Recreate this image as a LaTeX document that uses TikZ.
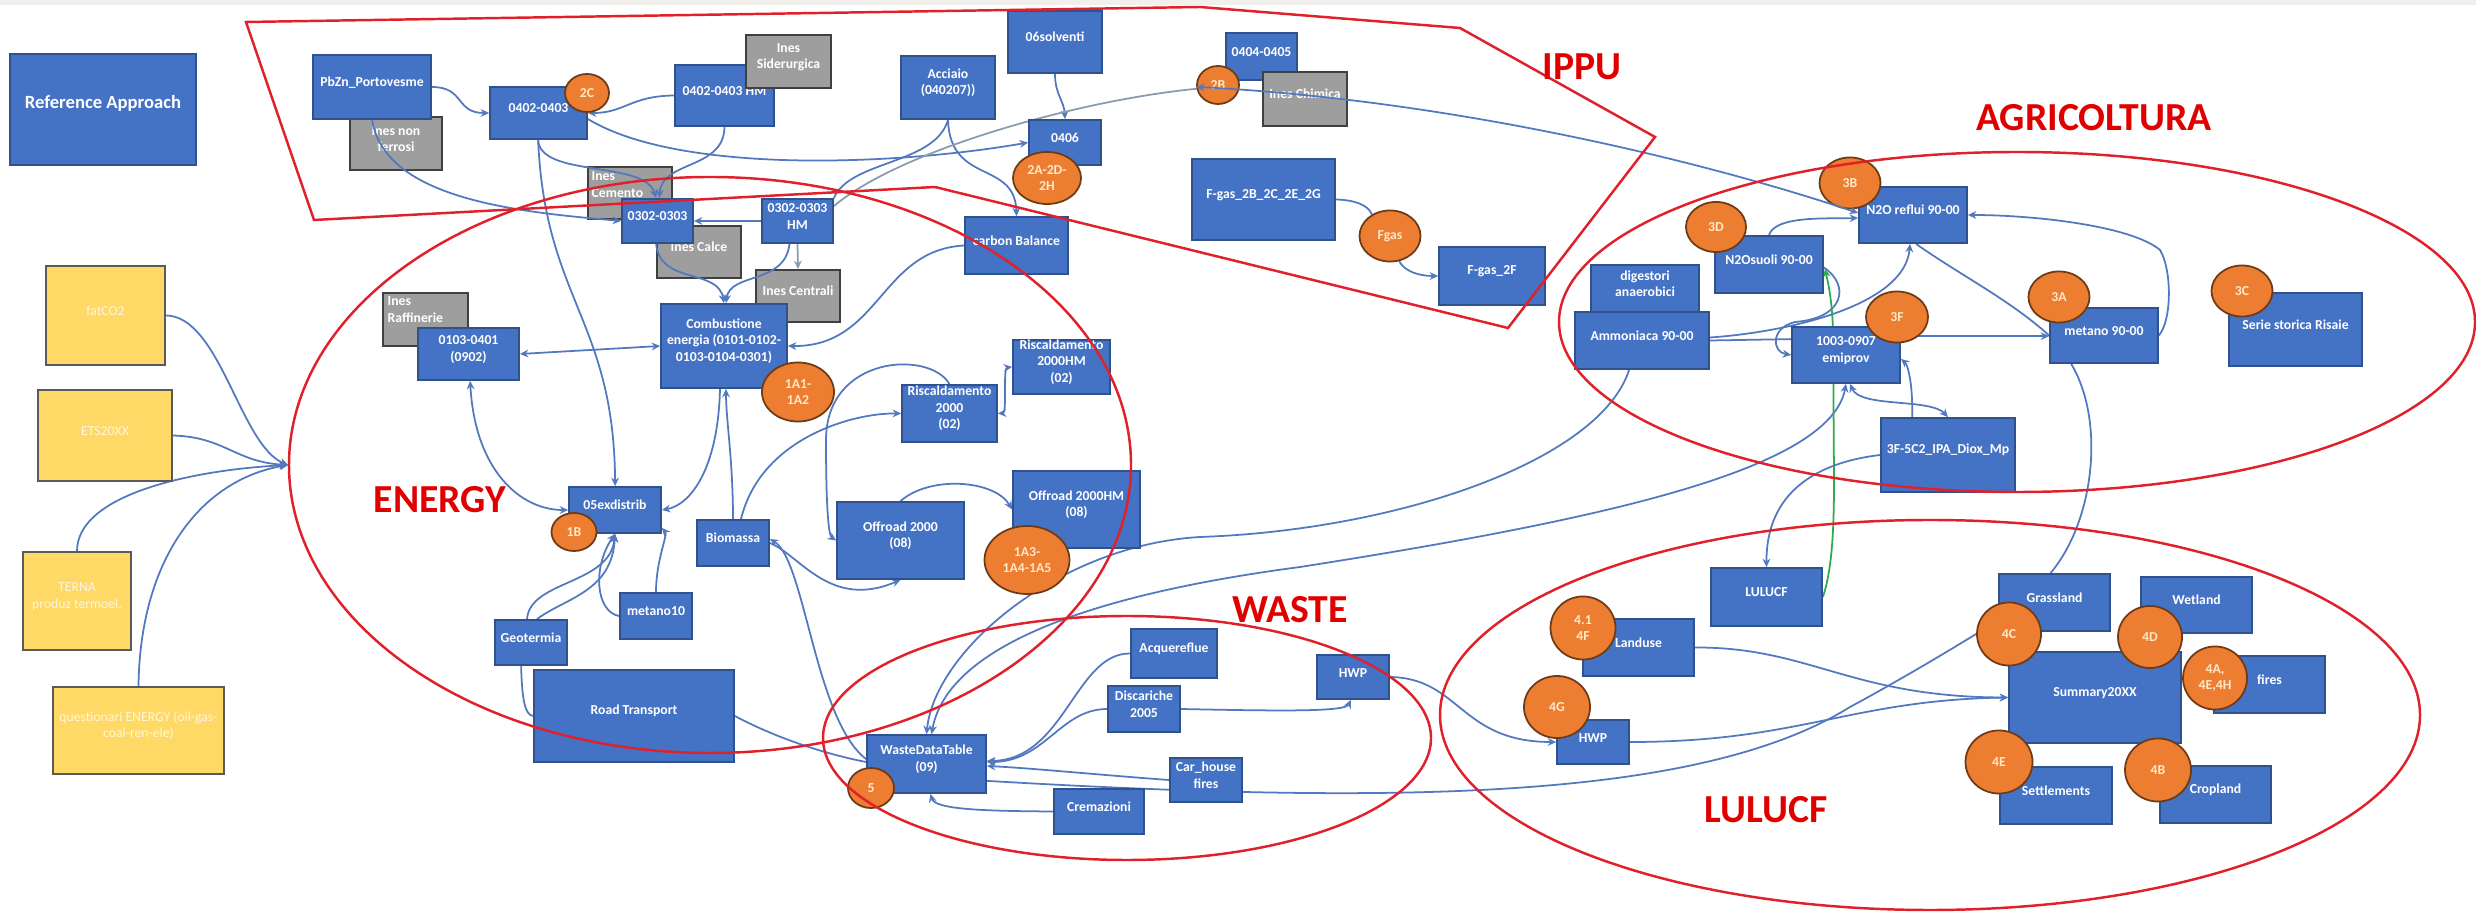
\documentclass[tikz,border=0pt]{standalone}
\usepackage{fontspec}
\newfontfamily\cfont{Carlito}
\usetikzlibrary{fit,calc,shapes.geometric,arrows.meta}
\pgfdeclarelayer{bg}\pgfdeclarelayer{fg}\pgfsetlayers{bg,main,fg}
\definecolor{bfill}{HTML}{4472C4}
\definecolor{bborder}{HTML}{2F528F}
\definecolor{gfill}{HTML}{9E9E9E}
\definecolor{gborder}{HTML}{404040}
\definecolor{ofill}{HTML}{ED7D31}
\definecolor{oborder}{HTML}{6E3B16}
\definecolor{otext}{HTML}{FFE9C8}
\definecolor{yfill}{HTML}{FFD966}
\definecolor{yborder}{HTML}{5A5A5A}
\definecolor{ytext}{HTML}{FFF6DD}
\definecolor{cblue}{HTML}{5279C0}
\definecolor{cgray}{HTML}{8A9BB0}
\definecolor{rline}{HTML}{E0202A}
\definecolor{rlab}{HTML}{E00000}
\definecolor{cgreen}{HTML}{2EAA50}
\definecolor{band}{HTML}{F2F0ED}
\tikzset{
 bx/.style={draw=bborder,fill=bfill,line width=0.5pt,inner sep=0pt,text=white,align=center,font=\cfont\bfseries\fontsize{3.9}{4.7}\selectfont},
 gx/.style={bx,draw=gborder,fill=gfill},
 yx/.style={draw=yborder,fill=yfill,line width=0.5pt,inner sep=0pt,text=ytext,align=center,font=\cfont\fontsize{3.9}{4.7}\selectfont},
 oc/.style={ellipse,draw=oborder,fill=ofill,line width=0.5pt,inner sep=0pt,text=otext,align=center,font=\cfont\bfseries\fontsize{3.9}{4.7}\selectfont},
 txt/.style={inner sep=0pt,text=white,align=left,font=\cfont\bfseries\fontsize{3.9}{4.7}\selectfont},
 lab/.style={inner sep=0pt,text=rlab,font=\cfont\bfseries\fontsize{11.3}{13}\selectfont},
 con/.style={draw=cblue,line width=0.5pt},
 arr/.style={con,-{Stealth[length=2.4pt,width=2.2pt]}},
 arr2/.style={con,{Stealth[length=2.4pt,width=2.2pt]}-{Stealth[length=2.4pt,width=2.2pt]}},
 garr/.style={arr,draw=cgreen},
 grarr/.style={arr,draw=cgray},
 gcon/.style={con,draw=cgray},
 region/.style={draw=rline,line width=0.7pt},
}
\begin{document}
\begin{tikzpicture}[x=0.01cm,y=-0.01cm]
\useasboundingbox (0,0) rectangle (2476,919);
\begin{pgfonlayer}{bg}
\fill[white] (0,0) rectangle (2476,919);
\fill[band] (0,0) rectangle (2476,5);
\end{pgfonlayer}

% ---------- boxes ----------
\node[bx,fit={(10,54)(196,165)},font=\cfont\bfseries\fontsize{5.3}{6.4}\selectfont] (RA) {Reference Approach};
\node[yx,fit={(46,266)(165,365)}] (fatCO2) {fatCO2};
\node[yx,fit={(38,390)(172,481)}] (ETS) {ETS20XX};
\node[yx,fit={(23,552)(131,650)}] (TERNA) {TERNA\\produz termoel.};
\node[yx,fit={(53,687)(224,774)}] (quest) {questionari ENERGY (oil-gas-\\coal-ren-ele)};
\coordinate (merge) at (288,465);

\node[gx,fit={(350,117)(442,170)}] (InesNF) {Ines non\\ferrosi};
\node[bx,fit={(313,55)(431,119)}] (PbZn) {PbZn\_Portovesme};
\node[bx,fit={(490,87)(587,139)}] (n0402) {0402-0403};
\node[bx,fit={(675,65)(774,126)}] (n0402HM) {0402-0403 HM};
\node[gx,fit={(746,35)(831,88)}] (InesSid) {Ines\\Siderurgica};
\node[bx,fit={(901,56)(995,119)}] (Acciaio) {Acciaio\\(040207))};
\node[bx,fit={(1008,11)(1102,73)}] (n06solv) {06solventi};
\node[bx,fit={(1029,120)(1101,165)}] (n0406) {0406};
\node[bx,fit={(1226,33)(1297,80)}] (n0404) {0404-0405};
\node[gx,fit={(1263,72)(1347,126)}] (InesChim) {Ines Chimica};
\node[bx,fit={(1192,159)(1335,240)}] (FgasA) {F-gas\_2B\_2C\_2E\_2G};
\node[bx,fit={(1439,247)(1545,305)}] (Fgas2F) {F-gas\_2F};

\node[gx,fit={(588,167)(672,219)}] (InesCem) {};
\node[txt,anchor=north west] at (591,171) {Ines\\Cemento};
\node[gx,fit={(657,226)(741,278)}] (InesCalce) {Ines Calce};
\node[bx,fit={(622,199)(693,243)}] (n0302) {0302-0303};
\node[bx,fit={(762,199)(833,243)}] (n0302HM) {0302-0303\\HM};
\node[gx,fit={(756,270)(840,322)}] (InesCentr) {Ines Centrali};
\node[bx,fit={(661,304)(787,388)}] (Combustione) {Combustione\\energia (0101-0102-\\0103-0104-0301)};
\node[bx,fit={(965,217)(1068,274)}] (carbonB) {carbon Balance};
\node[gx,fit={(383,293)(468,346)}] (InesRaff) {};
\node[txt,anchor=north west] at (387,296) {Ines\\Raffinerie};
\node[bx,fit={(418,328)(519,380)}] (n0103) {0103-0401\\(0902)};
\node[bx,fit={(902,385)(997,442)}] (Risc2000) {Riscaldamento\\2000\\(02)};
\node[bx,fit={(1013,340)(1110,394)}] (Risc2000HM) {Riscaldamento\\2000HM\\(02)};
\node[bx,fit={(569,487)(661,533)}] (exdistrib) {05exdistrib};
\node[bx,fit={(495,620)(567,665)}] (Geotermia) {Geotermia};
\node[bx,fit={(534,670)(734,762)}] (RoadT) {Road Transport};
\node[bx,fit={(620,593)(692,639)}] (metano10) {metano10};
\node[bx,fit={(697,520)(769,566)}] (Biomassa) {Biomassa};
\node[bx,fit={(837,502)(964,579)}] (Offroad) {Offroad 2000\\(08)};
\node[bx,fit={(1013,471)(1140,548)}] (OffroadHM) {Offroad 2000HM\\(08)};

\node[bx,fit={(867,735)(986,793)}] (WDT) {WasteDataTable\\(09)};
\node[bx,fit={(1131,629)(1217,678)}] (Acque) {Acquereflue};
\node[bx,fit={(1108,686)(1180,732)}] (Discariche) {Discariche\\2005};
\node[bx,fit={(1170,758)(1242,802)}] (CarHouse) {Car\_house\\fires};
\node[bx,fit={(1054,789)(1144,834)}] (Cremazioni) {Cremazioni};
\node[bx,fit={(1317,655)(1389,699)}] (HWPw) {HWP};

\node[bx,fit={(1591,265)(1699,312)}] (Digestori) {digestori\\anaerobici};
\node[bx,fit={(1575,312)(1709,369)}] (Ammoniaca) {Ammoniaca 90-00};
\node[bx,fit={(1715,236)(1823,293)}] (N2Osuoli) {N2Osuoli 90-00};
\node[bx,fit={(1859,187)(1967,243)}] (N2Oreflui) {N2O reflui 90-00};
\node[bx,fit={(1792,327)(1900,383)}] (emiprov) {1003-0907\\emiprov};
\node[bx,fit={(2050,308)(2158,363)}] (metano90) {metano 90-00};
\node[bx,fit={(2229,293)(2362,366)}] (Risaie) {Serie storica Risaie};
\node[bx,fit={(1881,418)(2015,492)}] (IPA) {3F-5C2\_IPA\_Diox\_Mp};

\node[bx,fit={(1711,568)(1822,626)}] (LULUCFb) {LULUCF};
\node[bx,fit={(1583,619)(1694,676)}] (Landuse) {Landuse};
\node[bx,fit={(1557,720)(1629,764)}] (HWPl) {HWP};
\node[bx,fit={(1999,574)(2110,631)}] (Grassland) {Grassland};
\node[bx,fit={(2141,577)(2252,633)}] (Wetland) {Wetland};
\node[bx,fit={(2009,652)(2181,743)}] (Summary) {Summary20XX};
\node[bx,fit={(2214,656)(2325,713)}] (fires) {fires};
\node[bx,fit={(2000,767)(2112,824)}] (Settlements) {Settlements};
\node[bx,fit={(2160,766)(2271,823)}] (Cropland) {Cropland};

% ---------- orange markers ----------
\node[oc,minimum width=0.44cm,minimum height=0.38cm] (c2C) at (587,93) {2C};
\node[oc,minimum width=0.42cm,minimum height=0.38cm] (c2B) at (1218,85) {2B};
\node[oc,minimum width=0.68cm,minimum height=0.52cm] (c2A) at (1047,178) {2A-2D-\\2H};
\node[oc,minimum width=0.72cm,minimum height=0.59cm] (c1A1) at (798,392) {1A1-\\1A2};
\node[oc,minimum width=0.85cm,minimum height=0.68cm] (c1A3) at (1027,560) {1A3-\\1A4-1A5};
\node[oc,minimum width=0.45cm,minimum height=0.38cm] (c1B) at (574,532) {1B};
\node[oc,minimum width=0.46cm,minimum height=0.40cm] (c5) at (871,788) {5};
\node[oc,minimum width=0.61cm,minimum height=0.51cm] (cFgas) at (1390,236) {Fgas};
\node[oc,minimum width=0.60cm,minimum height=0.50cm] (c3D) at (1716,227) {3D};
\node[oc,minimum width=0.61cm,minimum height=0.51cm] (c3B) at (1850,183) {3B};
\node[oc,minimum width=0.62cm,minimum height=0.51cm] (c3F) at (1897,317) {3F};
\node[oc,minimum width=0.61cm,minimum height=0.51cm] (c3A) at (2059,297) {3A};
\node[oc,minimum width=0.61cm,minimum height=0.51cm] (c3C) at (2242,291) {3C};
\node[oc,minimum width=0.65cm,minimum height=0.63cm] (c41) at (1583,628) {4.1\\4F};
\node[oc,minimum width=0.66cm,minimum height=0.62cm] (c4G) at (1557,707) {4G};
\node[oc,minimum width=0.64cm,minimum height=0.63cm] (c4C) at (2009,634) {4C};
\node[oc,minimum width=0.64cm,minimum height=0.62cm] (c4D) at (2150,637) {4D};
\node[oc,minimum width=0.64cm,minimum height=0.63cm] (c4A) at (2215,678) {4A,\\4E,4H};
\node[oc,minimum width=0.67cm,minimum height=0.63cm] (c4E) at (1999,762) {4E};
\node[oc,minimum width=0.66cm,minimum height=0.63cm] (c4B) at (2158,770) {4B};

% ---------- connectors (behind boxes) ----------
\begin{pgfonlayer}{bg}
\draw[arr] (fatCO2.east) .. controls (220,316) and (240,445) .. (merge);
\draw[arr] (ETS.east) .. controls (225,437) and (235,462) .. (merge);
\draw[arr] (TERNA.north) .. controls (77,495) and (190,470) .. (merge);
\draw[arr] (quest.north) .. controls (140,560) and (200,480) .. (merge);

\draw[arr] (PbZn.east) .. controls (465,87) and (455,113) .. (n0402.west);
\draw[arr] ($(n0402.south west)+(49,0)$) .. controls (545,300) and (614,320) .. ($(exdistrib.north west)+(47,0)$);
\draw[arr] (n0402HM.west) .. controls (630,96) and (625,113) .. (n0402.east);
\draw[arr] ($(n0402.east)+(0,6)$) .. controls (680,175) and (900,165) .. (n0406.west);
\draw[arr] (n06solv.south) .. controls (1055,95) and (1064,100) .. (n0406.north);
\draw[arr] (Acciaio.south) .. controls (950,185) and (1015,160) .. (carbonB.north);
\draw[con] (Acciaio.south) .. controls (935,165) and (850,160) .. (n0302HM.north east);
\draw[gcon] ($(n0302HM.north east)+(0,8)$) .. controls (900,150) and (1080,100) .. (c2B.190);
\draw[arr] (n0302HM.west) -- (n0302.east);
\draw[grarr] (n0302HM.south) -- (InesCentr.north);
\draw[arr2] (n0103.east) -- (Combustione.west);
\draw[arr2] ($(n0103.south west)+(53,0)$) .. controls (475,470) and (520,510) .. (exdistrib.west);
\draw[arr] (carbonB.west) .. controls (880,250) and (880,347) .. (Combustione.east);
\draw[arr] (Biomassa.north) .. controls (733,460) and (726,420) .. ($(Combustione.south)+(2,0)$);
\draw[arr] ($(Combustione.south)+(-4,0)$) .. controls (718,470) and (690,505) .. (exdistrib.east);
\draw[arr] (metano10.north) .. controls (656,560) and (668,535) .. ($(exdistrib.south east)+(0,-6)$);
\draw[arr] ($(Geotermia.north)+(-4,0)$) .. controls (530,580) and (610,585) .. (exdistrib.south);
\draw[arr] ($(Geotermia.north)+(6,0)$) .. controls (565,598) and (612,592) .. (exdistrib.south);
\draw[arr] (metano10.west) .. controls (596,612) and (592,568) .. (exdistrib.south);
\draw[con] ($(Geotermia.south west)+(27,0)$) .. controls (522,700) and (525,715) .. (RoadT.west);
\draw[arr] ($(Biomassa.north)+(8,0)$) .. controls (760,440) and (850,413) .. (Risc2000.west);
\draw[arr] (Risc2000.north) .. controls (930,350) and (826,355) .. (826,440) .. controls (826,500) and (828,535) .. (Offroad.west);
\draw[arr2] (Risc2000.east) .. controls (1007,413) and (1003,368) .. (Risc2000HM.west);
\draw[arr] (Offroad.north) .. controls (930,475) and (995,480) .. (OffroadHM.west);
\draw[arr] (Biomassa.east) .. controls (800,555) and (830,610) .. (Offroad.south);
\draw[arr] ($(WDT.north west)+(0,25)$) .. controls (815,720) and (805,560) .. ($(Biomassa.east)+(0,-4)$);
\draw[con] (RoadT.east) .. controls (780,740) and (830,755) .. ($(WDT.west)+(0,-2)$);
\draw[arr] ($(Ammoniaca.south west)+(55,0)$) .. controls (1600,460) and (1400,530) .. (1200,537) .. controls (1060,545) and (935,650) .. (WDT.north);
\draw[arr2] (emiprov.south) .. controls (1830,470) and (1600,520) .. (1300,567) .. controls (1050,600) and (945,660) .. ($(WDT.north)+(5,0)$);
\draw[arr] (Acque.west) .. controls (1075,653) and (1065,760) .. ($(WDT.east)+(0,-3)$);
\draw[arr] (Discariche.west) .. controls (1060,709) and (1045,762) .. ($(WDT.east)+(0,-2)$);
\draw[arr] (Discariche.east) .. controls (1280,711) and (1345,712) .. ($(HWPw.south)+(-2,0)$);
\draw[arr] (CarHouse.west) .. controls (1100,775) and (1030,768) .. ($(WDT.east)+(0,2)$);
\draw[arr] (Cremazioni.west) .. controls (990,811) and (935,810) .. ($(WDT.south)+(4,0)$);
\draw[con] ($(WDT.south east)+(0,-13)$) .. controls (1400,805) and (1700,800) .. (1850,707) .. controls (1900,680) and (1950,650) .. (c4C.west);
\draw[arr] (HWPw.east) .. controls (1460,678) and (1460,742) .. (HWPl.west);
\draw[arr] (HWPl.east) .. controls (1800,742) and (1850,700) .. (Summary.west);
\draw[arr] (Landuse.east) .. controls (1810,647) and (1850,697) .. (Summary.west);
\draw[con] ($(metano90.south west)+(22,0)$) .. controls (2105,420) and (2095,520) .. ($(Grassland.north)+(-4,0)$);
\draw[arr] (metano90.east) .. controls (2172,320) and (2172,270) .. (2160,250) .. controls (2130,225) and (2030,215) .. (N2Oreflui.east);
\draw[con] (Ammoniaca.east) -- ($(emiprov.north west)+(0,13)$);
\draw[arr] ($(emiprov.north east)+(0,10)$) -- ($(metano90.north west)+(0,29)$);
\draw[arr] ($(Ammoniaca.east)+(0,-3)$) .. controls (1790,332) and (1905,305) .. ($(N2Oreflui.south)+(-3,0)$);
\draw[con] ($(N2Oreflui.south)+(3,0)$) .. controls (1960,275) and (2010,300) .. (metano90.west);
\draw[arr] (N2Osuoli.north) .. controls (1775,215) and (1830,219) .. ($(N2Oreflui.west)+(0,3)$);
\draw[arr] ($(N2Osuoli.east)+(0,3)$) .. controls (1850,285) and (1845,318) .. (1795,322) .. controls (1770,328) and (1772,352) .. (emiprov.west);
\draw[garr] (LULUCFb.east) .. controls (1832,570) and (1834,530) .. (1834,480) -- (1833,330) .. controls (1832,300) and (1828,282) .. ($(N2Osuoli.south east)+(1,-25)$);
\draw[arr] ($(IPA.north west)+(32,0)$) .. controls (1913,385) and (1908,365) .. ($(emiprov.south east)+(0,-25)$);
\draw[arr2] ($(emiprov.south)+(4,0)$) .. controls (1860,408) and (1930,398) .. (IPA.north);
\draw[arr] (IPA.west) .. controls (1820,462) and (1766,490) .. (LULUCFb.north);
\draw[con] (FgasA.east) .. controls (1355,200) and (1368,205) .. (cFgas.130);
\draw[arr] (cFgas.-70) .. controls (1405,272) and (1420,276) .. (Fgas2F.west);
\end{pgfonlayer}

% ---------- connectors over boxes, and regions ----------
\begin{pgfonlayer}{fg}
\draw[arr] ($(PbZn.south west)+(60,0)$) .. controls (385,200) and (520,212) .. (n0302.west);
\draw[arr] ($(n0402.south west)+(49,0)$) .. controls (540,178) and (645,160) .. ($(n0302.north west)+(35,0)$);
\draw[arr] (n0402HM.south) .. controls (724,170) and (662,160) .. ($(n0302.north west)+(38,0)$);
\draw[arr] ($(n0302HM.south)+(-8,0)$) .. controls (785,285) and (730,272) .. ($(Combustione.north)+(2,0)$);
\draw[arr] ($(n0302.south west)+(35,0)$) .. controls (660,285) and (718,268) .. (Combustione.north);
\draw[arr2] (c2B.185) .. controls (1450,100) and (1700,160) .. ($(N2Oreflui.west)+(0,-2)$);

\draw[region] (246,22) -- (1200,7) -- (1460,28) -- (1655,137) -- (1508,328) -- (935,187) -- (314,220) -- cycle;
\draw[region] (710,465) ellipse [x radius=421, y radius=288];
\draw[region] (1127,738) ellipse [x radius=304, y radius=122];
\draw[region] (2017,322) ellipse [x radius=458, y radius=170];
\draw[region] (1930,715) ellipse [x radius=490, y radius=195];

\node[lab] (LIPPU) at (1582,67) {IPPU};
\node[lab] (LAGR) at (2094,118) {AGRICOLTURA};
\node[lab] (LEN) at (440,500) {ENERGY};
\node[lab] (LWA) at (1290,610) {WASTE};
\node[lab] (LLU) at (1766,810) {LULUCF};
\end{pgfonlayer}
\end{tikzpicture}
\end{document}
